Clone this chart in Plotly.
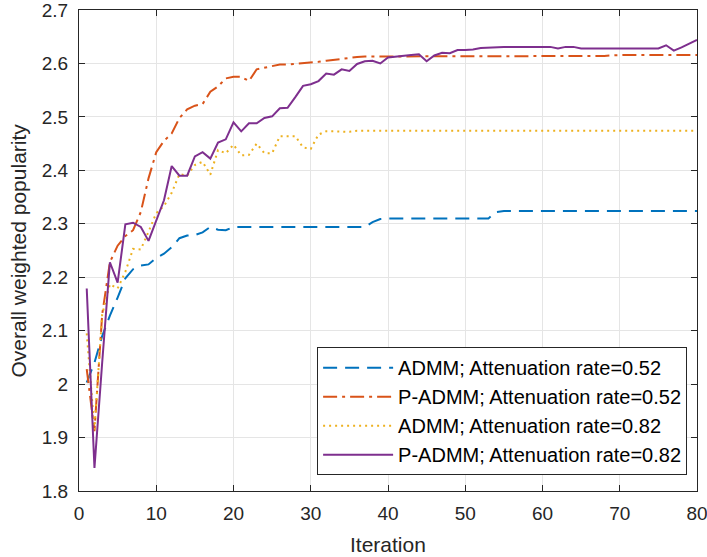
import plotly.graph_objects as go

# Iteration index (1..80)
iterations = list(range(1, 81))

# ADMM; attenuation rate 0.52
admm_052 = [2.003, 2.040, 2.090, 2.128, 2.162, 2.198, 2.215, 2.222, 2.224, 2.236,
            2.244, 2.256, 2.273, 2.278, 2.279, 2.284, 2.294, 2.289, 2.288, 2.294,
            2.294, 2.294, 2.294, 2.294, 2.294, 2.294, 2.294, 2.294, 2.294, 2.294,
            2.294, 2.294, 2.294, 2.294, 2.294, 2.294, 2.294, 2.303, 2.309, 2.310,
            2.310, 2.310, 2.310, 2.310, 2.310, 2.310, 2.310, 2.310, 2.310, 2.310,
            2.310, 2.310, 2.310, 2.322, 2.324, 2.324, 2.324, 2.324, 2.324, 2.324,
            2.324, 2.324, 2.324, 2.324, 2.324, 2.324, 2.324, 2.324, 2.324, 2.324,
            2.324, 2.324, 2.324, 2.324, 2.324, 2.324, 2.324, 2.324, 2.324, 2.324]

# P-ADMM; attenuation rate 0.52
padmm_052 = [2.028, 1.912, 2.130, 2.228, 2.259, 2.277, 2.288, 2.322, 2.385, 2.434,
             2.455, 2.469, 2.498, 2.514, 2.521, 2.524, 2.547, 2.557, 2.572, 2.575,
             2.575, 2.567, 2.589, 2.592, 2.595, 2.598, 2.598, 2.599, 2.600, 2.601,
             2.603, 2.605, 2.607, 2.609, 2.611, 2.612, 2.613, 2.613, 2.613, 2.613,
             2.613, 2.613, 2.613, 2.613, 2.613, 2.613, 2.613, 2.613, 2.613, 2.613,
             2.613, 2.613, 2.613, 2.613, 2.613, 2.613, 2.613, 2.613, 2.613, 2.613,
             2.613, 2.613, 2.613, 2.613, 2.613, 2.613, 2.613, 2.614, 2.615, 2.616,
             2.616, 2.616, 2.616, 2.616, 2.616, 2.616, 2.616, 2.616, 2.616, 2.616]

# ADMM; attenuation rate 0.82
admm_082 = [2.095, 1.915, 2.130, 2.187, 2.179, 2.210, 2.253, 2.252, 2.285, 2.320,
            2.333, 2.358, 2.393, 2.390, 2.410, 2.416, 2.392, 2.438, 2.432, 2.448,
            2.428, 2.429, 2.450, 2.432, 2.432, 2.464, 2.464, 2.464, 2.443, 2.440,
            2.467, 2.473, 2.473, 2.473, 2.472, 2.474, 2.474, 2.474, 2.474, 2.474,
            2.474, 2.474, 2.474, 2.474, 2.474, 2.474, 2.474, 2.474, 2.474, 2.474,
            2.474, 2.474, 2.474, 2.474, 2.474, 2.474, 2.474, 2.474, 2.474, 2.474,
            2.474, 2.474, 2.474, 2.474, 2.474, 2.474, 2.474, 2.474, 2.474, 2.474,
            2.474, 2.474, 2.474, 2.474, 2.474, 2.474, 2.474, 2.474, 2.474, 2.474]

# P-ADMM; attenuation rate 0.82
padmm_082 = [2.179, 1.843, 2.040, 2.228, 2.190, 2.299, 2.302, 2.294, 2.268, 2.306,
             2.344, 2.408, 2.390, 2.390, 2.426, 2.434, 2.422, 2.452, 2.458, 2.490,
             2.473, 2.488, 2.488, 2.498, 2.501, 2.516, 2.517, 2.537, 2.558, 2.561,
             2.567, 2.581, 2.579, 2.589, 2.586, 2.599, 2.604, 2.605, 2.600, 2.611,
             2.613, 2.615, 2.616, 2.617, 2.604, 2.615, 2.620, 2.619, 2.625, 2.625,
             2.626, 2.629, 2.630, 2.631, 2.631, 2.631, 2.631, 2.631, 2.631, 2.631,
             2.631, 2.628, 2.631, 2.631, 2.628, 2.628, 2.628, 2.628, 2.628, 2.628,
             2.628, 2.628, 2.628, 2.628, 2.628, 2.634, 2.624, 2.630, 2.637, 2.644]

x_ticks = [0, 10, 20, 30, 40, 50, 60, 70, 80]
y_ticks = [1.8, 1.9, 2.0, 2.1, 2.2, 2.3, 2.4, 2.5, 2.6, 2.7]
y_tick_text = ["1.8", "1.9", "2", "2.1", "2.2", "2.3", "2.4", "2.5", "2.6", "2.7"]

series = [
    ("ADMM; Attenuation rate=0.52", admm_052, "#0072BD", "14px,8px"),
    ("P-ADMM; Attenuation rate=0.52", padmm_052, "#D95319", "14px,5px,3px,5px"),
    ("ADMM; Attenuation rate=0.82", admm_082, "#EDB120", "2px,4px"),
    ("P-ADMM; Attenuation rate=0.82", padmm_082, "#7E2F8E", "solid"),
]

FONT = "Liberation Sans, Arial, sans-serif"

fig = go.Figure()
for name, values, color, dash in series:
    fig.add_trace(go.Scatter(
        x=iterations, y=values, mode="lines", name=name,
        line=dict(color=color, width=2, dash=dash),
    ))

axis_style = dict(
    showline=True, linecolor="#262626", linewidth=1, mirror="ticks",
    ticks="inside", ticklen=6, tickcolor="#262626",
    showgrid=True, gridcolor="#e5e5e5", gridwidth=1,
    zeroline=False, ticklabeloverflow="allow", automargin=False,
    tickfont=dict(family=FONT, size=19, color="#262626"),
)

fig.update_layout(
    width=707, height=557,
    margin=dict(l=79, r=10, t=10, b=66),
    paper_bgcolor="white", plot_bgcolor="white",
    font=dict(family=FONT, size=19, color="#262626"),
    xaxis=dict(range=[0, 80], tickvals=x_ticks, ticklabelstandoff=5,
               **axis_style),
    yaxis=dict(range=[1.8, 2.7], tickvals=y_ticks, ticktext=y_tick_text,
               ticklabelstandoff=6, **axis_style),
    legend=dict(
        x=0.984, y=0.033, xanchor="right", yanchor="bottom",
        bgcolor="white", bordercolor="#262626", borderwidth=1,
        font=dict(family=FONT, size=20, color="#000000"),
        itemwidth=70, tracegroupgap=0,
    ),
    showlegend=True,
    annotations=[
        dict(text="Iteration", x=0.5, y=0, xref="paper", yref="paper",
             xanchor="center", yanchor="top", yshift=-40, showarrow=False,
             font=dict(family=FONT, size=21, color="#262626")),
        dict(text="Overall weighted popularity", x=0, y=0.5, xref="paper", yref="paper",
             xanchor="center", yanchor="middle", xshift=-61, textangle=-90,
             showarrow=False, font=dict(family=FONT, size=21, color="#262626")),
    ],
)

fig.write_html("out.html")
